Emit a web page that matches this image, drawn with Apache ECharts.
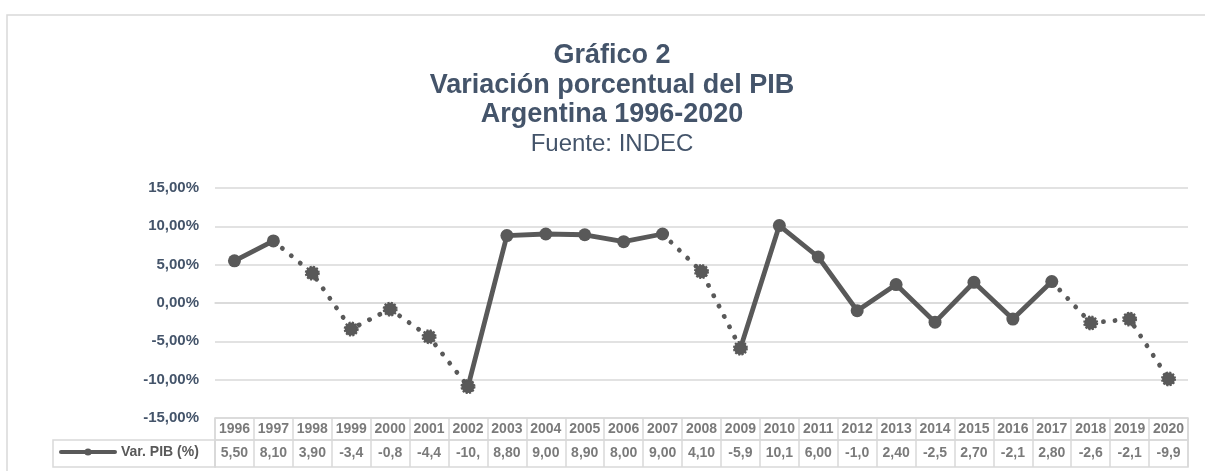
<!DOCTYPE html>
<html>
<head>
<meta charset="utf-8">
<script src="https://cdn.jsdelivr.net/npm/echarts@6/dist/echarts.min.js"></script>
<style>
  html, body { margin: 0; padding: 0; background: #fff; }
  #chart { width: 1205px; height: 471px; }
</style>
</head>
<body>
<div id="chart"></div>
<script>
// Datos (INDEC)
var anios = ['1996', '1997', '1998', '1999', '2000', '2001', '2002', '2003', '2004', '2005', '2006', '2007', '2008',
             '2009', '2010', '2011', '2012', '2013', '2014', '2015', '2016', '2017', '2018', '2019', '2020'];
var varPIB = [5.5, 8.1, 3.9, -3.4, -0.8, -4.4, -10.9, 8.8, 9.0, 8.9, 8.0, 9.0, 4.1,
              -5.9, 10.1, 6.0, -1.0, 2.4, -2.5, 2.7, -2.1, 2.8, -2.6, -2.1, -9.9];
// años marcados con linea punteada en el original
var aniosPunteados = ['1998', '1999', '2000', '2001', '2002', '2008', '2009', '2018', '2019', '2020'];
var ejeY = [-15, -10, -5, 0, 5, 10, 15];

var GRIS = '#595959';
var AZUL = '#44546A';
var BORDE = '#d9d9d9';
var FUENTE = "'Liberation Sans', Arial, sans-serif";

var punteado = anios.map(function (a) { return aniosPunteados.indexOf(a) >= 0; });
var n = anios.length;

// tramos continuos y punteados (cada tramo toma el estilo de su punto final)
var datosLlenos = varPIB.map(function (v, i) {
    var ok = (i > 0 && !punteado[i]) || (i < n - 1 && !punteado[i + 1]);
    return ok ? v : '-';
});
var datosPunteados = varPIB.map(function (v, i) {
    var ok = (i > 0 && punteado[i]) || (i < n - 1 && punteado[i + 1]);
    return ok ? v : '-';
});
var marcadores = varPIB.map(function (v, i) {
    if (punteado[i]) {
        return { value: v, itemStyle: { color: GRIS, borderColor: GRIS, borderWidth: 2, borderType: [2, 1.4] } };
    }
    return { value: v };
});

function etiquetaTabla(v) {
    return v.toFixed(2).replace('.', ',').slice(0, 4);
}
var celdasAnio = anios.map(function (a, i) { return { value: [i, 0.5], label: { formatter: a } }; });
var celdasValor = varPIB.map(function (v, i) { return { value: [i, 0.5], label: { formatter: etiquetaTabla(v) } }; });

var chart = echarts.init(document.getElementById('chart'), null, { renderer: 'canvas' });

var ejeTabla = function (idx) {
    return {
        type: 'category', gridIndex: idx, data: anios, boundaryGap: true,
        axisLine: { show: false }, axisTick: { show: false }, axisLabel: { show: false },
        splitLine: { show: true, lineStyle: { color: BORDE, width: 1.5 } }
    };
};
var ejeTablaY = function (idx) {
    return { type: 'value', gridIndex: idx, min: 0, max: 1, show: false };
};

var option = {
    animation: false,
    backgroundColor: '#fff',
    textStyle: { fontFamily: FUENTE },
    title: {
        text: 'Gráfico 2\nVariación porcentual del PIB\nArgentina 1996-2020',
        subtext: 'Fuente: INDEC',
        left: 612, top: 41, textAlign: 'center', itemGap: 0, padding: 0,
        textStyle: { fontFamily: FUENTE, fontSize: 27, fontWeight: 'bold', color: AZUL, lineHeight: 29.5 },
        subtextStyle: { fontFamily: FUENTE, fontSize: 24, fontWeight: 'normal', color: AZUL, lineHeight: 29.5 }
    },
    legend: {
        data: ['Var. PIB (%)'],
        left: 59, top: 445, padding: 0,
        itemWidth: 54, itemHeight: 9, itemGap: 0,
        lineStyle: { width: 4 },
        textStyle: { fontFamily: FUENTE, fontSize: 14, fontWeight: 'bold', color: GRIS, padding: [0, 0, 0, 1] }
    },
    graphic: [
        { type: 'rect', shape: { x: 7, y: 15, width: 1300, height: 600 }, style: { fill: 'none', stroke: BORDE, lineWidth: 1.5 }, silent: true },
        { type: 'rect', shape: { x: 53, y: 440, width: 162, height: 27 }, style: { fill: 'none', stroke: BORDE, lineWidth: 1.5 }, silent: true }
    ],
    grid: [
        { left: 215, top: 188, width: 973, height: 230 },
        { left: 215, top: 418, width: 973, height: 22, show: true, borderColor: BORDE, borderWidth: 1.5 },
        { left: 215, top: 440, width: 973, height: 27, show: true, borderColor: BORDE, borderWidth: 1.5 }
    ],
    xAxis: [
        {
            type: 'category', gridIndex: 0, data: anios, boundaryGap: true,
            axisLine: { show: true, lineStyle: { color: BORDE, width: 1.5 } },
            axisTick: { show: false }, axisLabel: { show: false }
        },
        ejeTabla(1),
        ejeTabla(2)
    ],
    yAxis: [
        {
            type: 'value', gridIndex: 0, min: ejeY[0], max: ejeY[ejeY.length - 1], interval: 5,
            axisLine: { show: false }, axisTick: { show: false },
            splitLine: { lineStyle: { color: BORDE, width: 1.5 } },
            axisLabel: {
                margin: 16, fontFamily: FUENTE, fontSize: 15, fontWeight: 'bold', color: AZUL,
                formatter: function (v) { return v.toFixed(2).replace('.', ',') + '%'; }
            }
        },
        ejeTablaY(1),
        ejeTablaY(2)
    ],
    series: [
        {
            name: 'Var. PIB (%)', type: 'line', data: datosLlenos,
            symbol: 'circle', symbolSize: 8, showSymbol: false, connectNulls: false,
            itemStyle: { color: GRIS },
            lineStyle: { color: GRIS, width: 4.8, cap: 'round', join: 'round' },
            z: 3
        },
        {
            name: 'punteado', type: 'line', data: datosPunteados,
            showSymbol: false, connectNulls: false,
            itemStyle: { color: GRIS },
            lineStyle: { color: GRIS, width: 4.8, type: [0.1, 11.5], cap: 'round' },
            z: 3
        },
        {
            name: 'marcadores', type: 'scatter', data: marcadores,
            symbol: 'circle', symbolSize: 13,
            itemStyle: { color: GRIS, opacity: 1 },
            z: 4
        },
        {
            name: 'anios', type: 'scatter', xAxisIndex: 1, yAxisIndex: 1, data: celdasAnio,
            symbolSize: 0, silent: true,
            label: { show: true, position: 'inside', fontFamily: FUENTE, fontSize: 14, fontWeight: 'bold', color: GRIS }
        },
        {
            name: 'valores', type: 'scatter', xAxisIndex: 2, yAxisIndex: 2, data: celdasValor,
            symbolSize: 0, silent: true,
            label: { show: true, position: 'inside', fontFamily: FUENTE, fontSize: 14, fontWeight: 'bold', color: GRIS }
        }
    ]
};
chart.setOption(option);
</script>
</body>
</html>
